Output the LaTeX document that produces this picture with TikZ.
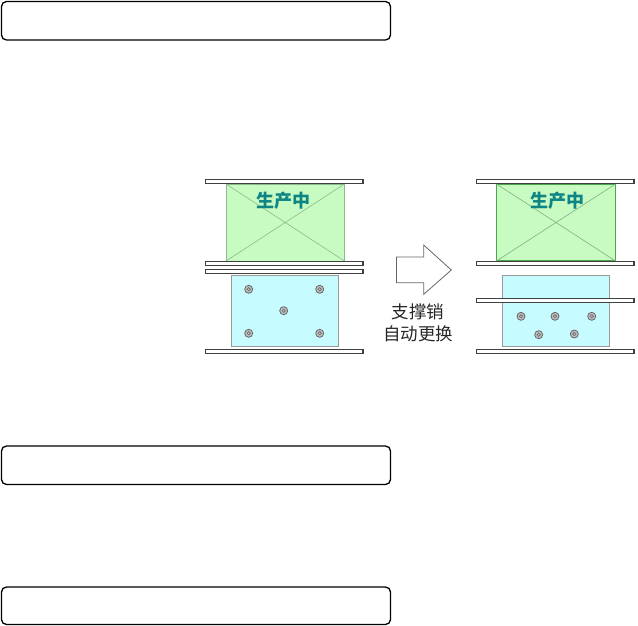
\documentclass[tikz,border=0pt]{standalone}
\usepackage{fontspec}
\newfontfamily\cjk{Noto Sans CJK SC}
\definecolor{diegreen}{HTML}{C8FBC2}
\definecolor{dieblue}{HTML}{C6FCFF}
\definecolor{prodteal}{HTML}{0E8585}
\begin{document}
\begin{tikzpicture}[x=1pt,y=-1pt,
        titlebox/.style={draw=black,line width=1.3pt,rounded corners=5pt},
        plate/.style={draw=black!75,fill=white,line width=1.5pt},
        pin/.style={circle,draw=black!60,fill=black!25,line width=0.8pt,inner sep=0pt,minimum size=8pt,
          path picture={\draw[black!60,line width=0.6pt] (path picture bounding box.center) circle (1.7pt);}},
        prodlabel/.style={text=prodteal,font=\cjk\bfseries\fontsize{18}{18}\selectfont,inner sep=0pt},
        steplabel/.style={text=black!85,font=\cjk\fontsize{17.5}{17.5}\selectfont,inner sep=0pt}]
        \useasboundingbox (0,0) rectangle (638,626);
        \draw[titlebox] (1.5,1.5) rectangle (390.5,40);
        \draw[titlebox] (1.5,446) rectangle (390.5,484.5);
        \draw[titlebox] (1.5,587) rectangle (390.5,624.5);
        % left, dies closed
        \draw[fill=diegreen,draw=green!40!black!45,line width=0.8pt] (226,184) rectangle (344.5,261);
        \draw[green!40!black!45,line width=0.6pt] (226,184) -- (344.5,261) (344.5,184) -- (226,261);
        \draw[fill=dieblue,draw=black!40,line width=1pt] (231,275) rectangle (338,346);
        \foreach \y in {179.5,261.5,269.5,349.5}
          \draw[plate] (205.5,\y) rectangle (363,\y+4);
        \foreach \x/\y in {248.7/289.3,319.7/289.3,283.7/310.7,248.7/333.3,319.7/333.3}
          \node[pin] at (\x,\y) {};
        \node[prodlabel] (prodleft) at (283.5,201) {生产中};
        % right, pins being changed
        \draw[fill=diegreen,draw=green!50!black!70,line width=1.1pt] (496.5,184) rectangle (615.5,261);
        \draw[green!40!black!50,line width=0.6pt] (496.5,184) -- (615.5,261) (615.5,184) -- (496.5,261);
        \draw[fill=dieblue,draw=black!40,line width=1pt] (502,275.7) rectangle (609,346);
        \foreach \y in {179.5,261.5,298.5,349.5}
          \draw[plate] (476.5,\y) rectangle (634,\y+4);
        \foreach \x/\y in {521/316.3,555/316.3,591.7/316.3,538.7/334.7,574.3/334}
          \node[pin] at (\x,\y) {};
        \node[prodlabel] (prodright) at (557.5,201) {生产中};
        % arrow and its label
        \draw[black!60,fill=white,line width=0.8pt] (396.5,257) -- (423.7,257) -- (423.7,245) -- (451.3,270)
          -- (423.7,294.3) -- (423.7,282.7) -- (396.5,282.7) -- cycle;
        \node[steplabel] (pinlabel) at (418,312) {支撑销};
        \node[steplabel] (autolabel) at (418,333.5) {自动更换};
      \end{tikzpicture}
\end{document}
